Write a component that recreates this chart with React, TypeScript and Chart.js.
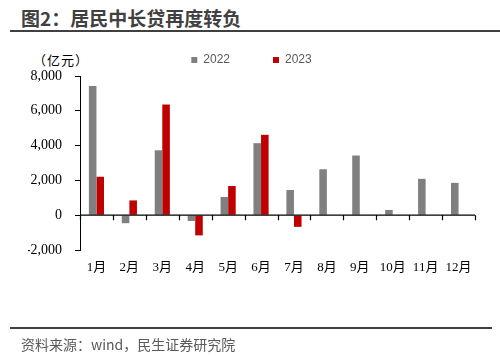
import React, { useEffect, useRef } from "react";
import { Chart, registerables } from "chart.js";

Chart.register(...registerables);

const categories = ["1月", "2月", "3月", "4月", "5月", "6月", "7月", "8月", "9月", "10月", "11月", "12月"];
const series2022 = [7420, -460, 3730, -330, 1050, 4140, 1450, 2640, 3430, 300, 2090, 1860];
const series2023 = [2210, 850, 6360, -1160, 1680, 4620, -670, null, null, null, null, null];
const yTicks = [-2000, 0, 2000, 4000, 6000, 8000];

const GRAY = "#808080";
const RED = "#C00000";
const SERIF = "'Liberation Serif', 'Times New Roman', 'Noto Sans CJK SC', serif";

const zeroLinePlugin = {
  id: "zeroLine",
  afterDatasetsDraw(chart: any) {
    const { ctx, chartArea, scales } = chart;
    const y0 = scales.y.getPixelForValue(0);
    const n = categories.length;
    const step = (chartArea.right - chartArea.left) / n;
    ctx.save();
    ctx.strokeStyle = "#000";
    ctx.lineWidth = 1.2;
    ctx.beginPath();
    ctx.moveTo(chartArea.left, y0);
    ctx.lineTo(chartArea.right, y0);
    for (let i = 0; i <= n; i++) {
      const x = Math.round(chartArea.left + i * step) + 0.5;
      ctx.moveTo(x, y0);
      ctx.lineTo(x, y0 + 5);
    }
    ctx.stroke();
    ctx.restore();
  },
};

export default function App() {
  const ref = useRef<HTMLCanvasElement>(null);

  useEffect(() => {
    if (!ref.current) return;
    const chart = new Chart(ref.current, {
      type: "bar",
      data: {
        labels: categories,
        datasets: [
          { label: "2022", data: series2022, backgroundColor: GRAY, borderWidth: 0 },
          { label: "2023", data: series2023 as any, backgroundColor: RED, borderWidth: 0 },
        ],
      },
      options: {
        responsive: false,
        animation: false,
        layout: { padding: { left: 28, right: 25, top: 11, bottom: 76 } },
        datasets: { bar: { categoryPercentage: 0.46, barPercentage: 1 } },
        plugins: {
          legend: {
            display: true,
            position: "top",
            labels: {
              boxWidth: 6,
              boxHeight: 6,
              padding: 43,
              color: "#595959",
              font: { family: "'Liberation Sans', Arial, sans-serif", size: 12 },
            },
          },
          tooltip: { enabled: false },
        },
        scales: {
          x: {
            grid: { display: false, drawTicks: false },
            border: { display: false },
            ticks: {
              color: "#000",
              padding: 10,
              maxRotation: 0,
              minRotation: 0,
              autoSkip: false,
              font: { family: SERIF, size: 13 },
            },
            afterFit(scale: any) {
              scale.height = 30;
            },
          },
          y: {
            min: -2000,
            max: 8000,
            afterBuildTicks(scale: any) {
              scale.ticks = yTicks.map((v) => ({ value: v }));
            },
            grid: { drawOnChartArea: false, drawTicks: true, tickLength: 5, color: "#000" },
            border: { display: true, color: "#000", width: 1 },
            ticks: {
              color: "#000",
              padding: 13,
              font: { family: SERIF, size: 14 },
              callback: (v: any) => Number(v).toLocaleString("en-US"),
            },
            afterFit(scale: any) {
              scale.width = 52;
            },
          },
        },
      },
      plugins: [zeroLinePlugin],
    });
    return () => chart.destroy();
  }, []);

  return (
    <div style={{ position: "fixed", left: 0, top: 0, width: 500, height: 356, background: "#fff", overflow: "hidden" }}>
      <div
        style={{
          position: "absolute",
          left: 21,
          top: 6,
          fontFamily: "'Noto Sans CJK SC', sans-serif",
          fontWeight: 700,
          fontSize: 19,
          lineHeight: "24px",
          color: "#404040",
          whiteSpace: "nowrap",
        }}
      >
        图2：居民中长贷再度转负
      </div>
      <div style={{ position: "absolute", left: 10, top: 30, width: 490, height: 2, background: "#404040" }} />
      <div
        style={{
          position: "absolute",
          left: 33,
          top: 51,
          fontFamily: "'Noto Sans CJK SC', sans-serif",
          fontSize: 13,
          lineHeight: "18px",
          letterSpacing: 1,
          color: "#000",
          whiteSpace: "nowrap",
        }}
      >
        （亿元）
      </div>
      <canvas ref={ref} width={500} height={356} style={{ position: "absolute", left: 0, top: 0, width: 500, height: 356 }} />
      <div style={{ position: "absolute", left: 10, top: 327, width: 482, height: 2, background: "#404040" }} />
      <div
        style={{
          position: "absolute",
          left: 21,
          top: 335,
          fontFamily: "'Noto Sans CJK SC', sans-serif",
          fontSize: 14,
          lineHeight: "18px",
          color: "#595959",
          whiteSpace: "nowrap",
        }}
      >
        资料来源：wind，民生证券研究院
      </div>
    </div>
  );
}
